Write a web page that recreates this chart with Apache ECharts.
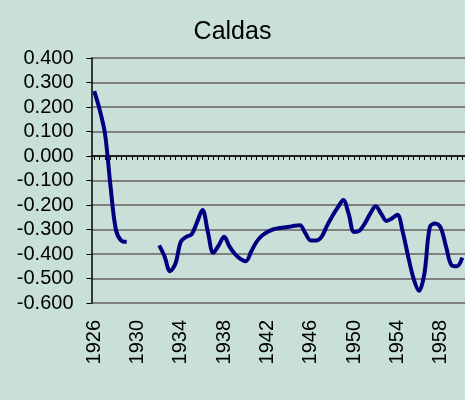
<!DOCTYPE html>
<html>
<head>
<meta charset="utf-8">
<script src="https://cdn.jsdelivr.net/npm/echarts@6/dist/echarts.min.js"></script>
<style>
html,body{margin:0;padding:0;background:#c8e0d8;}
#c{width:465px;height:400px;}
</style>
</head>
<body>
<div id="c"></div>
<script>
// Half-year categories 1926 .. 1960
var categories = [];
for (var y = 1926; y <= 1960; y++) {
  categories.push(String(y));
  if (y < 1960) categories.push(y + '.5');
}
var values = [
  0.265, 0.19, 0.09, -0.12, -0.30, -0.345, -0.35,
  null, null, null, null, null,
  -0.365, -0.41, -0.47, -0.44, -0.35, -0.33, -0.32, -0.27, -0.22, -0.31,
  -0.395, -0.365, -0.33, -0.37, -0.40, -0.42, -0.43, -0.39, -0.35, -0.325,
  -0.31, -0.30, -0.295, -0.292, -0.289, -0.285, -0.283, -0.315, -0.345, -0.345,
  -0.33, -0.285, -0.245, -0.21, -0.18, -0.235, -0.31, -0.305, -0.275, -0.235,
  -0.205, -0.235, -0.265, -0.255, -0.24, -0.31, -0.41, -0.50, -0.55, -0.48,
  -0.29, -0.275, -0.292, -0.37, -0.445, -0.45, -0.415
];
var yTicks = { min: -0.6, max: 0.4, interval: 0.1 };
var titleText = 'Caldas';

var chart = echarts.init(document.getElementById('c'), null, { renderer: 'canvas' });
var font = "'Liberation Sans', Arial, sans-serif";
chart.setOption({
  backgroundColor: '#c8e0d8',
  animation: false,
  title: {
    text: titleText, left: 'center', top: 20, padding: 0,
    textStyle: { fontFamily: font, fontSize: 25, fontWeight: 'normal', color: '#000' }
  },
  grid: { left: 91.5, right: 0, top: 58, bottom: 97, containLabel: false },
  xAxis: [
    {
      type: 'category', data: categories, position: 'bottom', boundaryGap: true,
      axisLine: { show: false, onZero: false },
      axisTick: { show: false },
      axisLabel: { interval: 7, rotate: 90, margin: 17, fontFamily: font, fontSize: 20, color: '#000' },
      splitLine: { show: false }
    },
    {
      type: 'category', data: categories, position: 'top', boundaryGap: true,
      axisLine: { show: true, onZero: true, lineStyle: { color: '#000', width: 1.5 } },
      axisTick: { show: true, inside: true, interval: 0, alignWithLabel: true, length: 4, lineStyle: { color: '#000', width: 1 } },
      axisLabel: { show: false },
      splitLine: { show: false }
    }
  ],
  yAxis: {
    type: 'value', min: yTicks.min, max: yTicks.max, interval: yTicks.interval,
    axisLine: { show: true, lineStyle: { color: '#000', width: 1.5 } },
    axisTick: { show: true, length: 5, lineStyle: { color: '#000', width: 1 } },
    axisLabel: {
      margin: 18, fontFamily: font, fontSize: 20, color: '#000',
      formatter: function (v) { return (Math.round(v * 1000) / 1000).toFixed(3); }
    },
    splitLine: { show: true, lineStyle: { color: '#808080', width: 2 } }
  },
  series: [{
    type: 'line', xAxisIndex: 0, data: values, smooth: 0.35, connectNulls: false,
    symbol: 'none', lineStyle: { color: '#000080', width: 4 }
  }]
});
</script>
</body>
</html>
